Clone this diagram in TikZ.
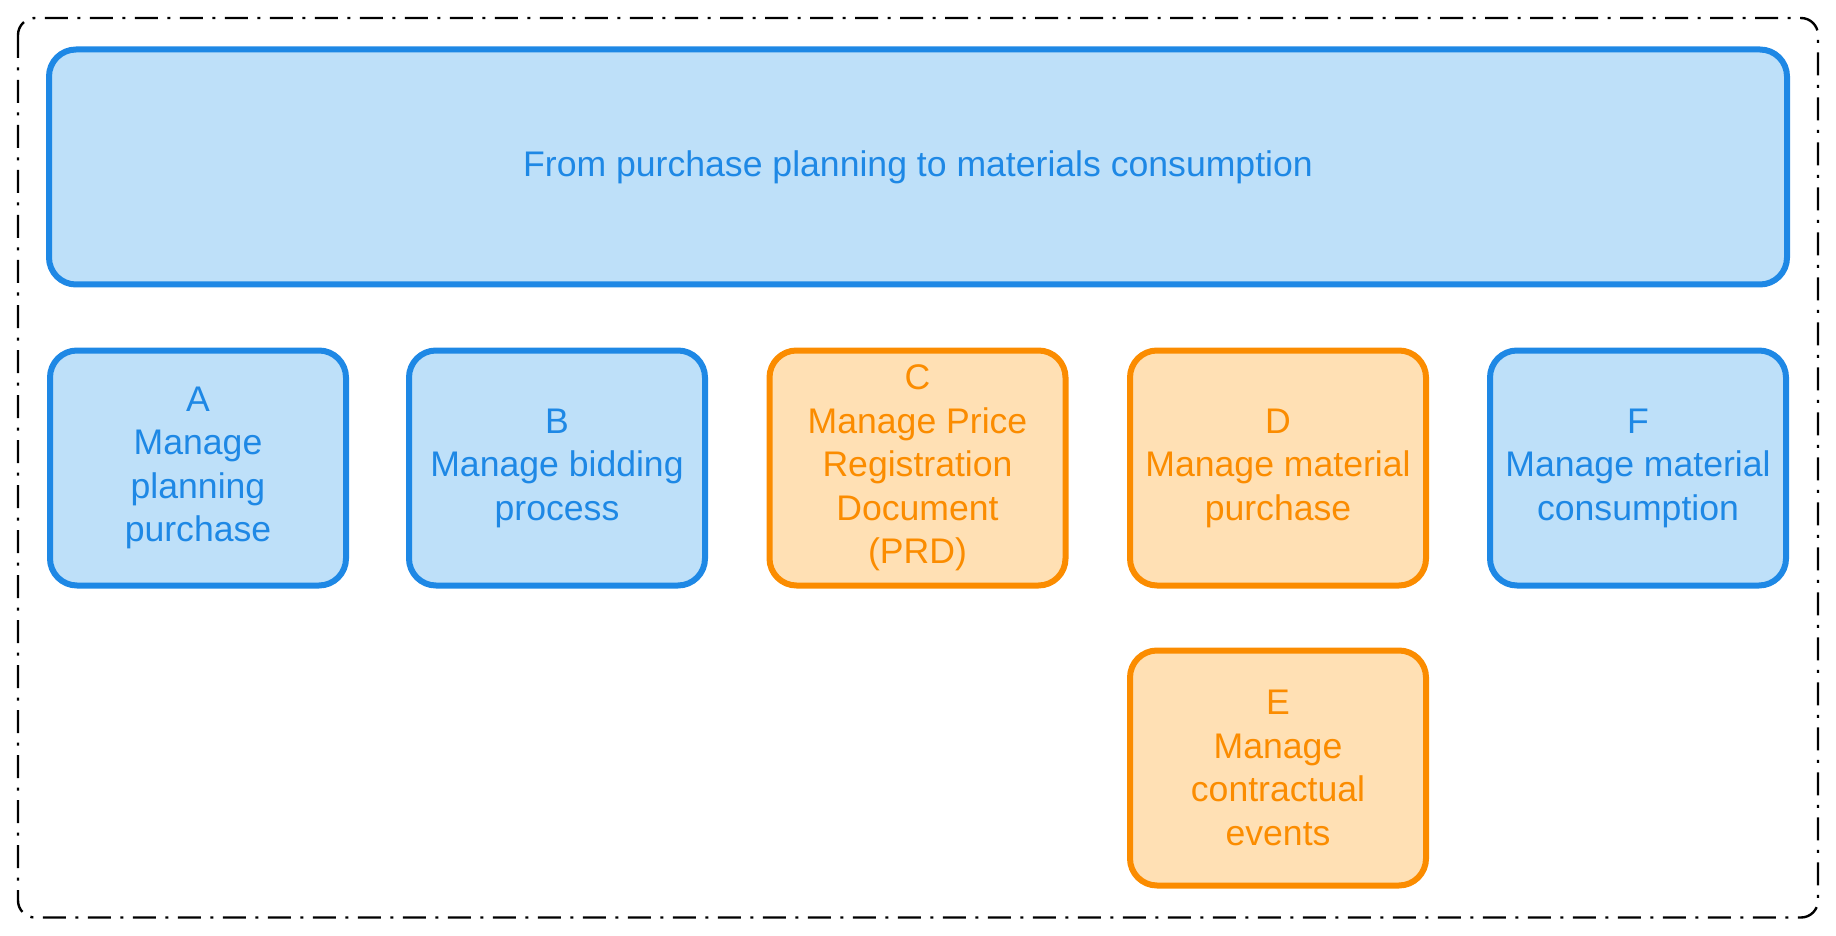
\documentclass[tikz,border=0pt]{standalone}
\usepackage{fontspec}
\setmainfont{Liberation Sans}

\definecolor{blueline}{HTML}{1E88E5}
\definecolor{bluefill}{HTML}{BEE0F9}
\definecolor{orangeline}{HTML}{FB8C00}
\definecolor{orangefill}{HTML}{FFE0B4}

\begin{document}
\begin{tikzpicture}[x=0.5pt,y=-0.5pt,
    box/.style={rounded corners=13.5pt, line width=3pt, align=center, inner sep=0pt,
        minimum width=148pt, minimum height=117.5pt,
        font=\fontsize{17.8pt}{21.75pt}\selectfont},
    bluebox/.style={box, draw=blueline, fill=bluefill, text=blueline},
    orangebox/.style={box, draw=orangeline, fill=orangefill, text=orangeline}]

            \useasboundingbox (0,0) rectangle (1836,936);

            % outer frame
            \draw[line width=1.2pt, rounded corners=8.5pt, dash pattern=on 11.5pt off 4.75pt on 1.5pt off 4.75pt] (18,18) rectangle (1818,917.5);

            \node[bluebox, minimum width=869pt] (whole) at (918,167) {From purchase planning to materials consumption};

            \node[bluebox] (A) at (198,468) {A\\Manage\\planning\\purchase};
            \node[bluebox] (B) at (557,468) {B\\Manage bidding\\process};
            \node[orangebox] (C) at (917.5,468) {C\\Manage Price\\Registration\\Document\\(PRD)};
            \node[orangebox] (D) at (1278,468) {D\\Manage material\\purchase};
            \node[bluebox] (F) at (1638,468) {F\\Manage material\\consumption};

            \node[orangebox] (E) at (1278,768) {E\\Manage\\contractual\\events};

        \end{tikzpicture}
\end{document}
